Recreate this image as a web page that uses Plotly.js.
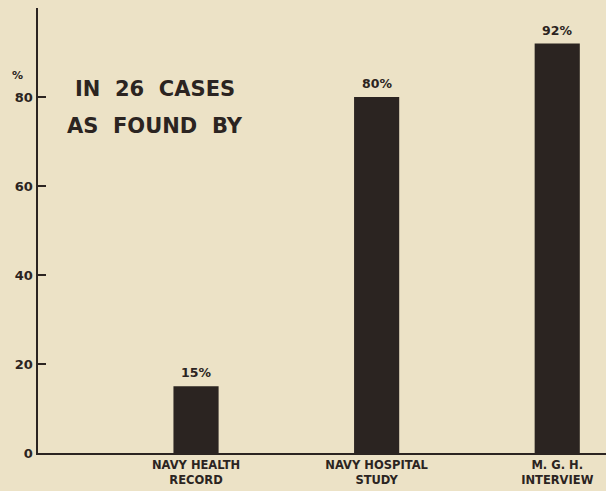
<!DOCTYPE html>
<html>
<head>
<meta charset="utf-8">
<script src="https://cdn.plot.ly/plotly-3.0.1.min.js"></script>
<style>html,body{margin:0;padding:0;background:#ece2c6;}</style>
</head>
<body>
<div id="chart" style="width:606px;height:491px;"></div>
<script>
// Data
const categories = ["NAVY HEALTH<br>RECORD", "NAVY HOSPITAL<br>STUDY", "M. G. H.<br>INTERVIEW"];
const values = [15, 80, 92];
const valueLabels = ["15%", "80%", "92%"];
const yTickVals = [0, 20, 40, 60, 80];
const yTickText = ["0", "20", "40", "60", "80"];
const noteLines = ["IN\u00a0\u00a026\u00a0\u00a0CASES", "AS\u00a0\u00a0FOUND\u00a0\u00a0BY"];

const ink = "#2b2421";
const fontFam = "DejaVu Sans, Arial, sans-serif";
const xIdx = categories.map((_, i) => i);

const trace = {
  type: "bar",
  x: xIdx,
  y: values,
  width: 0.25,
  marker: {color: ink, line: {width: 0}},
  hoverinfo: "skip"
};

const annotations = values.map((v, i) => ({
  x: i, y: v, xref: "x", yref: "y",
  text: "<b>" + valueLabels[i] + "</b>",
  showarrow: false, yanchor: "bottom", yshift: 4,
  font: {family: fontFam, size: 12.5, color: ink}
}));

annotations.push({
  xref: "paper", yref: "y", x: 0, y: 80, xanchor: "right", xshift: -13, yshift: 22,
  text: "<b>%</b>", showarrow: false,
  font: {family: fontFam, size: 11, color: ink}
});

noteLines.forEach((t, k) => {
  annotations.push({
    xref: "paper", yref: "y", x: 0.206, y: [81.7, 73.4][k],
    text: "<b>" + t + "</b>", showarrow: false, xanchor: "center", yanchor: "middle",
    font: {family: fontFam, size: 21, color: ink}
  });
});

const layout = {
  width: 606, height: 491,
  paper_bgcolor: "#ece2c6", plot_bgcolor: "#ece2c6",
  margin: {l: 38, r: 0, t: 8, b: 38, pad: 0},
  showlegend: false,
  xaxis: {
    range: [-0.875, 2.27], tickvals: xIdx, ticktext: categories.map(c => "<b>" + c + "</b>"),
    showline: true, linecolor: ink, linewidth: 2, ticks: "", showgrid: false, zeroline: false,
    tickfont: {family: fontFam, size: 11.5, color: ink}, fixedrange: true
  },
  yaxis: {
    range: [0, 100], tickvals: yTickVals, ticktext: yTickText.map(t => "<b>" + t + "</b>"),
    showline: true, linecolor: ink, linewidth: 2.5, ticks: "inside", ticklen: 8, tickwidth: 2, tickcolor: ink,
    showgrid: false, zeroline: false,
    tickfont: {family: fontFam, size: 13, color: ink}, fixedrange: true
  },
  annotations: annotations
};

Plotly.newPlot("chart", [trace], layout, {displayModeBar: false, staticPlot: true});
</script>
</body>
</html>
